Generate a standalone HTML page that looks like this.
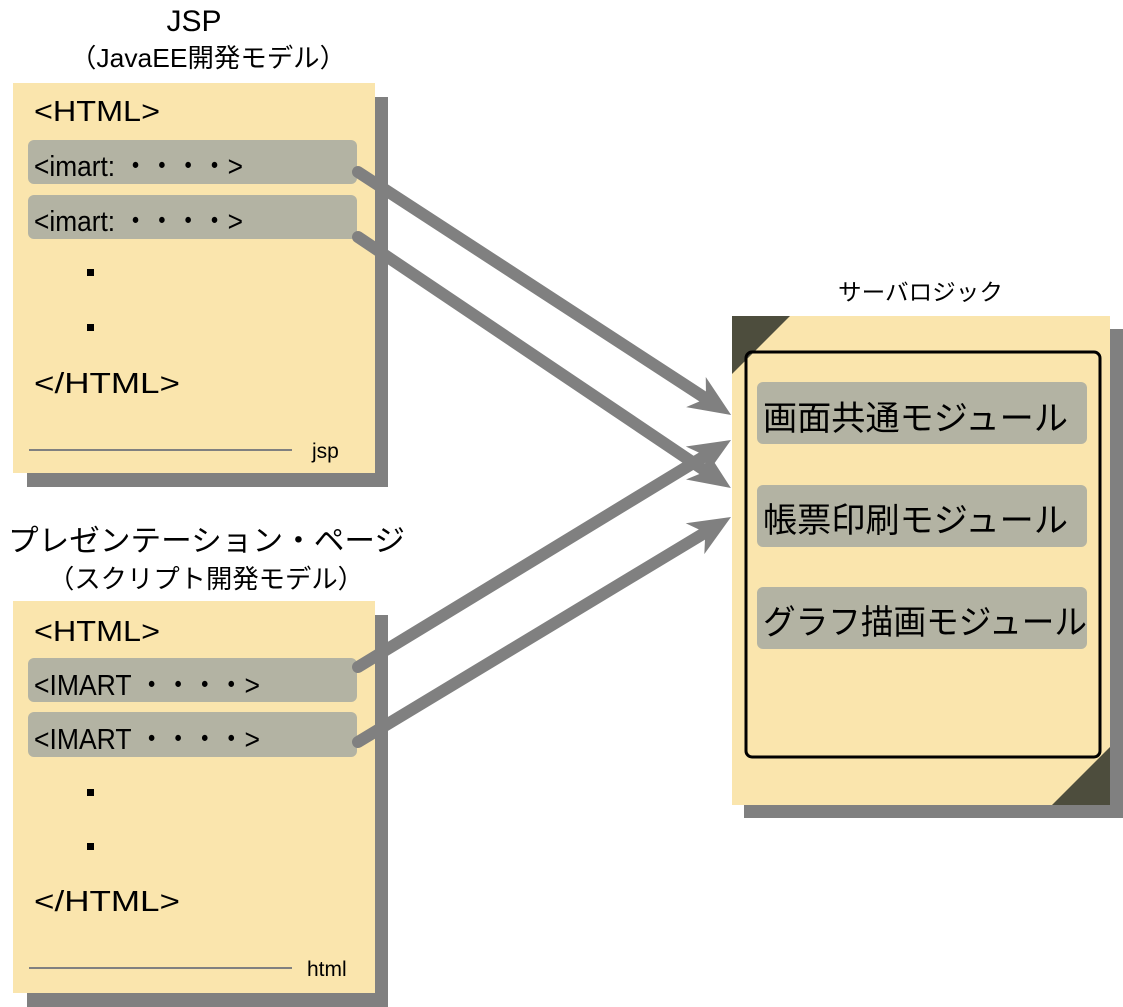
<!DOCTYPE html>
<html><head><meta charset="utf-8"><style>
html,body{margin:0;padding:0;background:#fff;}
svg{display:block;}
text{font-family:"Liberation Sans","Noto Sans CJK JP",sans-serif;fill:#000;}
</style></head><body>
<svg width="1123" height="1007" viewBox="0 0 1123 1007" xmlns="http://www.w3.org/2000/svg">
<defs>
<marker id="ah" markerUnits="userSpaceOnUse" markerWidth="60" markerHeight="60" refX="0" refY="0" viewBox="-20 -30 60 60" orient="auto" overflow="visible">
<path d="M30,0 L-12,-18 L0,0 L-12,18 Z" fill="#808080"/>
</marker>
</defs>
<!-- titles -->
<text x="194" y="31" font-size="30" text-anchor="middle">JSP</text>
<text x="70" y="67" font-size="26" textLength="276" lengthAdjust="spacingAndGlyphs">（JavaEE開発モデル）</text>
<text x="8" y="551" font-size="30" textLength="397" lengthAdjust="spacingAndGlyphs">プレゼンテーション・ページ</text>
<text x="48" y="588" font-size="26" textLength="316" lengthAdjust="spacingAndGlyphs">（スクリプト開発モデル）</text>
<text x="838" y="300" font-size="23" textLength="165" lengthAdjust="spacingAndGlyphs">サーバロジック</text>

<!-- JSP box -->
<rect x="27" y="97" width="361" height="390" fill="#808080"/>
<rect x="13" y="83" width="362" height="390" fill="#fae5ad"/>
<rect x="28" y="140" width="329" height="44" rx="6" fill="#b3b3a3"/>
<rect x="28" y="195" width="329" height="44" rx="6" fill="#b3b3a3"/>
<text x="34" y="121" font-size="29" textLength="126" lengthAdjust="spacingAndGlyphs">&lt;HTML&gt;</text>
<text x="34" y="176" font-size="29" textLength="209" lengthAdjust="spacingAndGlyphs">&lt;imart: ・・・・&gt;</text>
<text x="34" y="231" font-size="29" textLength="209" lengthAdjust="spacingAndGlyphs">&lt;imart: ・・・・&gt;</text>
<rect x="87" y="269" width="7" height="7" fill="#000"/>
<rect x="87" y="324" width="7" height="7" fill="#000"/>
<text x="34" y="393" font-size="29" textLength="146" lengthAdjust="spacingAndGlyphs">&lt;/HTML&gt;</text>
<line x1="29" y1="450" x2="292" y2="450" stroke="#808080" stroke-width="2"/>
<text x="312" y="458" font-size="21">jsp</text>

<!-- Presentation box -->
<rect x="27" y="615" width="361" height="392" fill="#808080"/>
<rect x="13" y="601" width="362" height="392" fill="#fae5ad"/>
<rect x="28" y="658" width="329" height="44" rx="6" fill="#b3b3a3"/>
<rect x="28" y="712" width="329" height="45" rx="6" fill="#b3b3a3"/>
<text x="34" y="641" font-size="29" textLength="126" lengthAdjust="spacingAndGlyphs">&lt;HTML&gt;</text>
<text x="34" y="695" font-size="29" textLength="226" lengthAdjust="spacingAndGlyphs">&lt;IMART ・・・・&gt;</text>
<text x="34" y="749" font-size="29" textLength="226" lengthAdjust="spacingAndGlyphs">&lt;IMART ・・・・&gt;</text>
<rect x="87" y="789" width="7" height="7" fill="#000"/>
<rect x="87" y="843" width="7" height="7" fill="#000"/>
<text x="34" y="911" font-size="29" textLength="146" lengthAdjust="spacingAndGlyphs">&lt;/HTML&gt;</text>
<line x1="29" y1="968" x2="292" y2="968" stroke="#808080" stroke-width="2"/>
<text x="307" y="976" font-size="21">html</text>

<!-- Server box -->
<rect x="744" y="329" width="379" height="489" fill="#808080"/>
<rect x="732" y="316" width="378" height="489" fill="#fae5ad"/>
<polygon points="732,316 790,316 732,374" fill="#4d4d3d"/>
<polygon points="1110,805 1052,805 1110,747" fill="#4d4d3d"/>
<rect x="746" y="352" width="354" height="405" rx="6" fill="none" stroke="#000" stroke-width="3"/>
<rect x="757" y="382" width="330" height="62" rx="6" fill="#b3b3a3"/>
<rect x="757" y="485" width="330" height="62" rx="6" fill="#b3b3a3"/>
<rect x="757" y="587" width="330" height="62" rx="6" fill="#b3b3a3"/>
<text x="763" y="430" font-size="34" textLength="305" lengthAdjust="spacingAndGlyphs">画面共通モジュール</text>
<text x="763" y="532" font-size="34" textLength="305" lengthAdjust="spacingAndGlyphs">帳票印刷モジュール</text>
<text x="763" y="634" font-size="34" textLength="324" lengthAdjust="spacingAndGlyphs">グラフ描画モジュール</text>

<!-- arrows -->
<g stroke="#808080" stroke-width="12" stroke-linecap="round" fill="none">
<line x1="358" y1="172" x2="706" y2="398.6" marker-end="url(#ah)"/>
<line x1="358" y1="237" x2="706" y2="471.3" marker-end="url(#ah)"/>
<line x1="358" y1="667" x2="705.4" y2="455.6" marker-end="url(#ah)"/>
<line x1="358" y1="742" x2="705.3" y2="532.5" marker-end="url(#ah)"/>
</g>
</svg>
</body></html>
